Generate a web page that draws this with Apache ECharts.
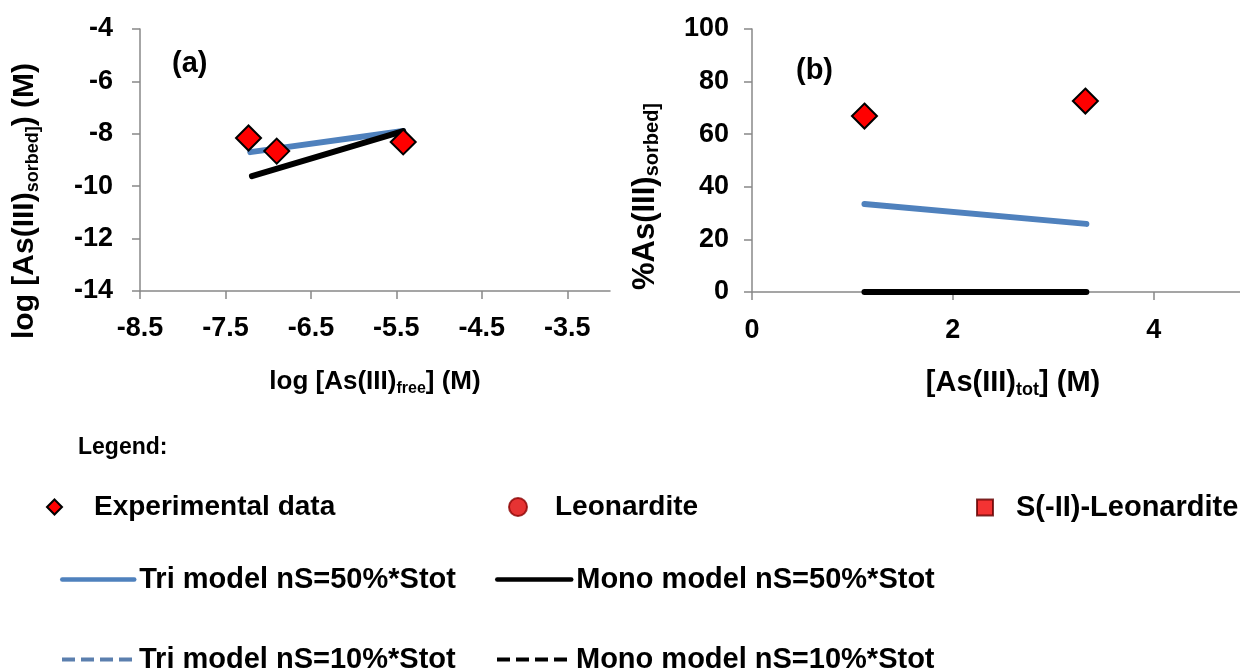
<!DOCTYPE html>
<html>
<head>
<meta charset="utf-8">
<script src="https://cdn.jsdelivr.net/npm/echarts@6/dist/echarts.min.js"></script>
<style>
html,body{margin:0;padding:0;background:#fff;}
#chart{width:1240px;height:668px;}
</style>
</head>
<body>
<div id="chart"></div>
<script>
// Panel (a): log [As(III)sorbed] vs log [As(III)free]
const expA_x = [-7.23, -6.90, -5.42];
const expA_y = [-8.16, -8.66, -8.31];
const triA_x = [-7.21, -5.42];
const triA_y = [-8.70, -7.89];
const monoA_x = [-7.19, -5.42];
const monoA_y = [-9.62, -7.90];
// Panel (b): %As(III)sorbed vs [As(III)tot]
const expB_x = [1.12, 3.32];
const expB_y = [66.9, 72.6];
const triB_x = [1.12, 3.33];
const triB_y = [33.5, 25.9];
const monoB_x = [1.12, 3.33];
const monoB_y = [0, 0];
// Tick labels
const xTicksA = [-8.5, -7.5, -6.5, -5.5, -4.5, -3.5];
const yTicksA = [-14, -12, -10, -8, -6, -4];
const xTicksB = [0, 2, 4];
const yTicksB = [0, 20, 40, 60, 80, 100];
// Legend names
const NAME_EXP = 'Experimental data';
const NAME_LEO = 'Leonardite';
const NAME_SLEO = 'S(-II)-Leonardite';
const NAME_TRI50 = 'Tri model nS=50%*Stot';
const NAME_MONO50 = 'Mono model nS=50%*Stot';
const NAME_TRI10 = 'Tri model nS=10%*Stot';
const NAME_MONO10 = 'Mono model nS=10%*Stot';

const zip = (a, b) => a.map((v, i) => [v, b[i]]);

const FONT = 'Liberation Sans';
const AXIS_COLOR = '#888888';
const BLUE = '#4F81BD';
const BLUE_DASH = '#5B7FAE';
const RED = '#FF0000';

function tickStyle(customValues) {
  const t = { show: true, length: 8, lineStyle: { color: AXIS_COLOR, width: 1.5 } };
  if (customValues) t.customValues = customValues;
  return t;
}
function labelStyle(margin, customValues) {
  return { color: '#000', fontFamily: FONT, fontWeight: 'bold', fontSize: 27, margin: margin, customValues: customValues };
}
function nameStyle(size, subSize, lineHeight, padding) {
  return {
    color: '#000', fontFamily: FONT, fontWeight: 'bold', fontSize: size, lineHeight: lineHeight,
    padding: padding,
    rich: {
      sub: { fontFamily: FONT, fontWeight: 'bold', fontSize: subSize, lineHeight: subSize - 2, verticalAlign: 'bottom', color: '#000' }
    }
  };
}
function axisBase(extra) {
  return Object.assign({
    type: 'value',
    axisLine: { show: true, onZero: false, lineStyle: { color: AXIS_COLOR, width: 1.5 } },
    splitLine: { show: false },
    nameLocation: 'middle'
  }, extra);
}

const chart = echarts.init(document.getElementById('chart'), null, { renderer: 'canvas' });

const legendText = (size, pad) => ({ fontFamily: FONT, fontWeight: 'bold', fontSize: size, color: '#000', padding: pad || 0 });
const noSymbol = { color: 'rgba(0,0,0,0)', borderColor: 'rgba(0,0,0,0)', borderWidth: 0 };

const option = {
  animation: false,
  backgroundColor: '#ffffff',
  textStyle: { fontFamily: FONT },
  title: [{
    text: 'Legend:', left: 78, top: 436, padding: 0,
    textStyle: { fontFamily: FONT, fontWeight: 'bold', fontSize: 23, color: '#000' }
  }],
  grid: [
    { left: 140, top: 29, width: 470, height: 262, outerBoundsMode: 'none', containLabel: false },
    { left: 752, top: 29, width: 488, height: 263, outerBoundsMode: 'none', containLabel: false }
  ],
  xAxis: [
    axisBase({
      gridIndex: 0, min: -8.5, max: -3,
      axisTick: tickStyle(xTicksA),
      axisLabel: labelStyle(24, xTicksA),
      name: 'log [As(III){sub|free}] (M)', nameGap: 76,
      nameTextStyle: nameStyle(26, 16, 30, 0)
    }),
    axisBase({
      gridIndex: 1, min: 0, max: 4.86,
      axisTick: tickStyle(xTicksB),
      axisLabel: labelStyle(25, xTicksB),
      name: '[As(III){sub|tot}] (M)', nameGap: 75,
      nameTextStyle: nameStyle(29, 18, 32, [0, 0, 0, 34])
    })
  ],
  yAxis: [
    axisBase({
      gridIndex: 0, min: -14, max: -4, interval: 2,
      axisTick: tickStyle(),
      axisLabel: labelStyle(27, yTicksA),
      name: 'log [As(III){sub|sorbed]}) (M)', nameGap: 98, nameRotate: 90,
      nameTextStyle: nameStyle(30, 18, 34, [0, 82, 0, 0])
    }),
    axisBase({
      gridIndex: 1, min: 0, max: 100, interval: 20,
      axisTick: tickStyle(),
      axisLabel: labelStyle(23, yTicksB),
      name: '%As(III){sub|sorbed]}', nameGap: 90, nameRotate: 90,
      nameTextStyle: nameStyle(31, 20, 34, [0, 72, 0, 0])
    })
  ],
  legend: [
    { data: [NAME_EXP], left: 46, top: 493, padding: 0, selectedMode: false, itemWidth: 15, itemHeight: 15,
      textStyle: legendText(28, [0, 0, 0, 27]) },
    { data: [NAME_LEO], left: 508, top: 493, padding: 0, selectedMode: false, itemWidth: 18, itemHeight: 18,
      textStyle: legendText(28, [0, 0, 0, 23]) },
    { data: [NAME_SLEO], left: 976, top: 493, padding: 0, selectedMode: false, itemWidth: 16, itemHeight: 16,
      textStyle: legendText(29, [0, 0, 0, 18]) },
    { data: [NAME_TRI50], left: 60, top: 565, padding: 0, selectedMode: false, itemWidth: 72, itemHeight: 14,
      itemStyle: noSymbol, lineStyle: { width: 4.5 }, textStyle: legendText(29) },
    { data: [NAME_MONO50], left: 495, top: 565, padding: 0, selectedMode: false, itemWidth: 74, itemHeight: 14,
      itemStyle: noSymbol, lineStyle: { width: 4.5 }, textStyle: legendText(29) },
    { data: [NAME_TRI10], left: 60, top: 645, padding: 0, selectedMode: false, itemWidth: 72, itemHeight: 14,
      itemStyle: noSymbol, lineStyle: { width: 4, type: [13, 6] }, textStyle: legendText(29) },
    { data: [NAME_MONO10], left: 495, top: 645, padding: 0, selectedMode: false, itemWidth: 74, itemHeight: 14,
      itemStyle: noSymbol, lineStyle: { width: 4, type: [13, 6] }, textStyle: legendText(29) }
  ],
  graphic: [
    { type: 'text', left: 172, top: 49, style: { text: '(a)', fontFamily: FONT, fontWeight: 'bold', fontSize: 29, fill: '#000' } },
    { type: 'text', left: 796, top: 56, style: { text: '(b)', fontFamily: FONT, fontWeight: 'bold', fontSize: 29, fill: '#000' } }
  ],
  series: [
    { name: NAME_TRI50, type: 'line', xAxisIndex: 0, yAxisIndex: 0, data: zip(triA_x, triA_y), symbol: 'none', clip: false,
      lineStyle: { color: BLUE, width: 6, cap: 'round' }, itemStyle: { color: BLUE }, z: 2 },
    { name: NAME_MONO50, type: 'line', xAxisIndex: 0, yAxisIndex: 0, data: zip(monoA_x, monoA_y), symbol: 'none', clip: false,
      lineStyle: { color: '#000', width: 6, cap: 'round' }, itemStyle: { color: '#000' }, z: 2 },
    { name: NAME_TRI50, type: 'line', xAxisIndex: 1, yAxisIndex: 1, data: zip(triB_x, triB_y), symbol: 'none', clip: false,
      lineStyle: { color: BLUE, width: 6, cap: 'round' }, itemStyle: { color: BLUE }, z: 2 },
    { name: NAME_MONO50, type: 'line', xAxisIndex: 1, yAxisIndex: 1, data: zip(monoB_x, monoB_y), symbol: 'none', clip: false,
      lineStyle: { color: '#000', width: 6, cap: 'round' }, itemStyle: { color: '#000' }, z: 2 },
    { name: NAME_TRI10, type: 'line', xAxisIndex: 0, yAxisIndex: 0, data: [], symbol: 'none',
      lineStyle: { color: BLUE_DASH, width: 4, type: [13, 6] }, itemStyle: { color: BLUE_DASH } },
    { name: NAME_MONO10, type: 'line', xAxisIndex: 0, yAxisIndex: 0, data: [], symbol: 'none',
      lineStyle: { color: '#000', width: 4, type: [13, 6] }, itemStyle: { color: '#000' } },
    { name: NAME_EXP, type: 'scatter', xAxisIndex: 0, yAxisIndex: 0, data: zip(expA_x, expA_y), symbol: 'diamond', symbolSize: 25, clip: false,
      itemStyle: { color: RED, borderColor: '#000', borderWidth: 2, opacity: 1 }, z: 5 },
    { name: NAME_EXP, type: 'scatter', xAxisIndex: 1, yAxisIndex: 1, data: zip(expB_x, expB_y), symbol: 'diamond', symbolSize: 25, clip: false,
      itemStyle: { color: RED, borderColor: '#000', borderWidth: 2, opacity: 1 }, z: 5 },
    { name: NAME_LEO, type: 'scatter', xAxisIndex: 0, yAxisIndex: 0, data: [], symbol: 'circle',
      itemStyle: { color: '#E00000', borderColor: '#8B0000', borderWidth: 1 } },
    { name: NAME_SLEO, type: 'scatter', xAxisIndex: 0, yAxisIndex: 0, data: [], symbol: 'rect',
      itemStyle: { color: '#F00000', borderColor: '#600000', borderWidth: 1 } }
  ]
};

chart.setOption(option);
</script>
</body>
</html>
